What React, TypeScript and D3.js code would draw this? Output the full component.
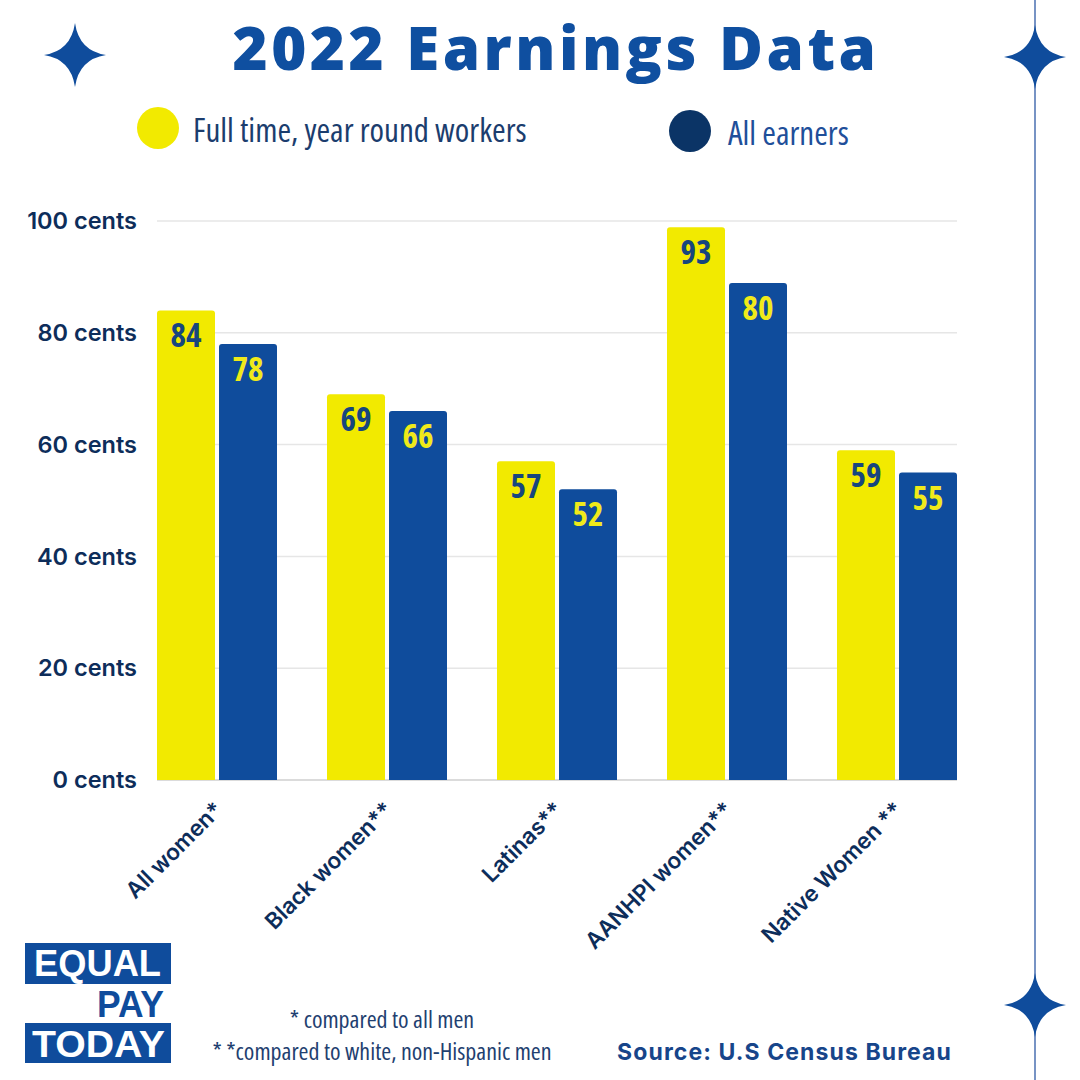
import React from "react";
import * as d3 from "d3";

const categories = ["All women*", "Black women**", "Latinas**", "AANHPI women**", "Native Women **"];
const seriesNames = ["Full time, year round workers", "All earners"];
// bar heights as drawn in the reference
const fullTime = [84, 69, 57, 98.9, 59];
const allEarners = [78, 66, 52, 88.9, 55];
// value labels as printed in the reference
const fullTimeLabels = ["84", "69", "57", "93", "59"];
const allEarnersLabels = ["78", "66", "52", "80", "55"];
const yTicks = [0, 20, 40, 60, 80, 100];

const YELLOW = "#f2ea00";
const BLUE = "#0f4c9c";
const NAVY = "#0d2d5a";
const COND = "'Open Sans', sans-serif";

function star(cx: number, cy: number, rx: number, ry: number) {
  const k = 0.13;
  return `M${cx},${cy - ry} Q${cx + rx * k},${cy - ry * k} ${cx + rx},${cy} Q${cx + rx * k},${cy + ry * k} ${cx},${cy + ry} Q${cx - rx * k},${cy + ry * k} ${cx - rx},${cy} Q${cx - rx * k},${cy - ry * k} ${cx},${cy - ry}Z`;
}

export default function App() {
  const W = 1080, H = 1080;
  const x0 = d3.scaleBand<string>().domain(categories).range([157, 957]).paddingInner(50 / 170).paddingOuter(0);
  const x1 = d3.scaleBand<string>().domain(seriesNames).range([0, x0.bandwidth()]).paddingInner(4 / 62);
  const y = d3.scaleLinear().domain([0, 100]).range([780, 221]);

  const values = [fullTime, allEarners];
  const labels = [fullTimeLabels, allEarnersLabels];
  const fills = [YELLOW, BLUE];
  const labelFills = ["#17467e", "#f0ea1a"];

  const barPath = (x: number, yTop: number, w: number, yBot: number, r: number) =>
    `M${x},${yBot} L${x},${yTop + r} Q${x},${yTop} ${x + r},${yTop} L${x + w - r},${yTop} Q${x + w},${yTop} ${x + w},${yTop + r} L${x + w},${yBot} Z`;

  const logoFont = "'Liberation Sans', Arial, sans-serif";

  return (
    <svg width={W} height={H} style={{ position: "absolute", left: 0, top: 0, background: "#fff" }}>
      <rect x={0} y={0} width={W} height={H} fill="#fff" />
      {/* right border line */}
      <line x1={1035} x2={1035} y1={0} y2={H} stroke="#4a6fb0" strokeWidth={1.5} />
      <path d={star(75, 55, 31, 32)} fill={BLUE} />
      <path d={star(1035, 57, 31, 32)} fill={BLUE} />
      <path d={star(1035, 1005, 31, 32)} fill={BLUE} />

      {/* title */}
      <text x={556} y={70} textAnchor="middle" fontFamily="'Open Sans', sans-serif" fontWeight={800} fontSize={60} letterSpacing={3.5} fill="#0f4fa0">
        2022 Earnings Data
      </text>

      {/* legend */}
      <circle cx={158} cy={128} r={21} fill={YELLOW} />
      <text x={193} y={142} fontFamily={COND} fontStretch="condensed" fontWeight={400} fontSize={33} fill="#1b3d6e">{seriesNames[0]}</text>
      <circle cx={690} cy={131} r={21} fill="#0b3466" />
      <text x={728} y={145} fontFamily={COND} fontStretch="condensed" fontWeight={400} fontSize={33} fill="#1f4f9a">{seriesNames[1]}</text>

      {/* gridlines and y labels */}
      {yTicks.map((t) => (
        <g key={t}>
          <line x1={157} x2={957} y1={y(t)} y2={y(t)} stroke={t === 0 ? "#cfcfcf" : "#e6e6e6"} strokeWidth={1.5} />
          <text x={137} y={y(t)} dy="0.35em" textAnchor="end" fontFamily="Inter, sans-serif" fontWeight={600} fontSize={23.5} fill={NAVY}>
            {t} cents
          </text>
        </g>
      ))}

      {/* bars */}
      {categories.map((c, i) => (
        <g key={c} transform={`translate(${x0(c)},0)`}>
          {seriesNames.map((s, j) => {
            const v = values[j][i];
            const bx = x1(s)!;
            const bw = x1.bandwidth();
            return (
              <g key={s}>
                <path d={barPath(bx, y(v), bw, y(0), 3)} fill={fills[j]} />
                <text x={bx + bw / 2} y={y(v) + 37} textAnchor="middle" fontFamily={COND} fontStretch="condensed" fontWeight={700} fontSize={33} fill={labelFills[j]}>
                  {labels[j][i]}
                </text>
              </g>
            );
          })}
        </g>
      ))}

      {/* x labels */}
      {categories.map((c) => {
        const cx = x0(c)! + x0.bandwidth() / 2 - 4;
        const cy = 800;
        return (
          <text key={c} transform={`translate(${cx},${cy}) rotate(-45)`} textAnchor="end" dy="0.7em" fontFamily="Inter, sans-serif" fontWeight={600} fontSize={22.5} fill={NAVY}>
            {c}
          </text>
        );
      })}

      {/* logo */}
      <rect x={25} y={943} width={146} height={41} fill={BLUE} />
      <text x={34} y={976} textLength={127} lengthAdjust="spacingAndGlyphs" fontFamily={logoFont} fontWeight={700} fontSize={37} fill="#fff">EQUAL</text>
      <text x={97} y={1017} textLength={67} lengthAdjust="spacingAndGlyphs" fontFamily={logoFont} fontWeight={700} fontSize={36} fill={BLUE}>PAY</text>
      <rect x={25} y={1023} width={146} height={40} fill={BLUE} />
      <text x={32} y={1057} textLength={133} lengthAdjust="spacingAndGlyphs" fontFamily={logoFont} fontWeight={700} fontSize={37} fill="#fff">TODAY</text>

      {/* footnotes */}
      <text x={382} y={1028} textAnchor="middle" fontFamily={COND} fontStretch="condensed" fontSize={24} fill="#1f3f70">* compared to all men</text>
      <text x={382} y={1060} textAnchor="middle" fontFamily={COND} fontStretch="condensed" fontSize={24} fill="#1f3f70">* *compared to white, non-Hispanic men</text>

      {/* source */}
      <text x={952} y={1060} textAnchor="end" fontFamily="Inter, sans-serif" fontWeight={700} fontSize={23} letterSpacing={1.1} fill="#17458a">Source: U.S Census Bureau</text>
    </svg>
  );
}
